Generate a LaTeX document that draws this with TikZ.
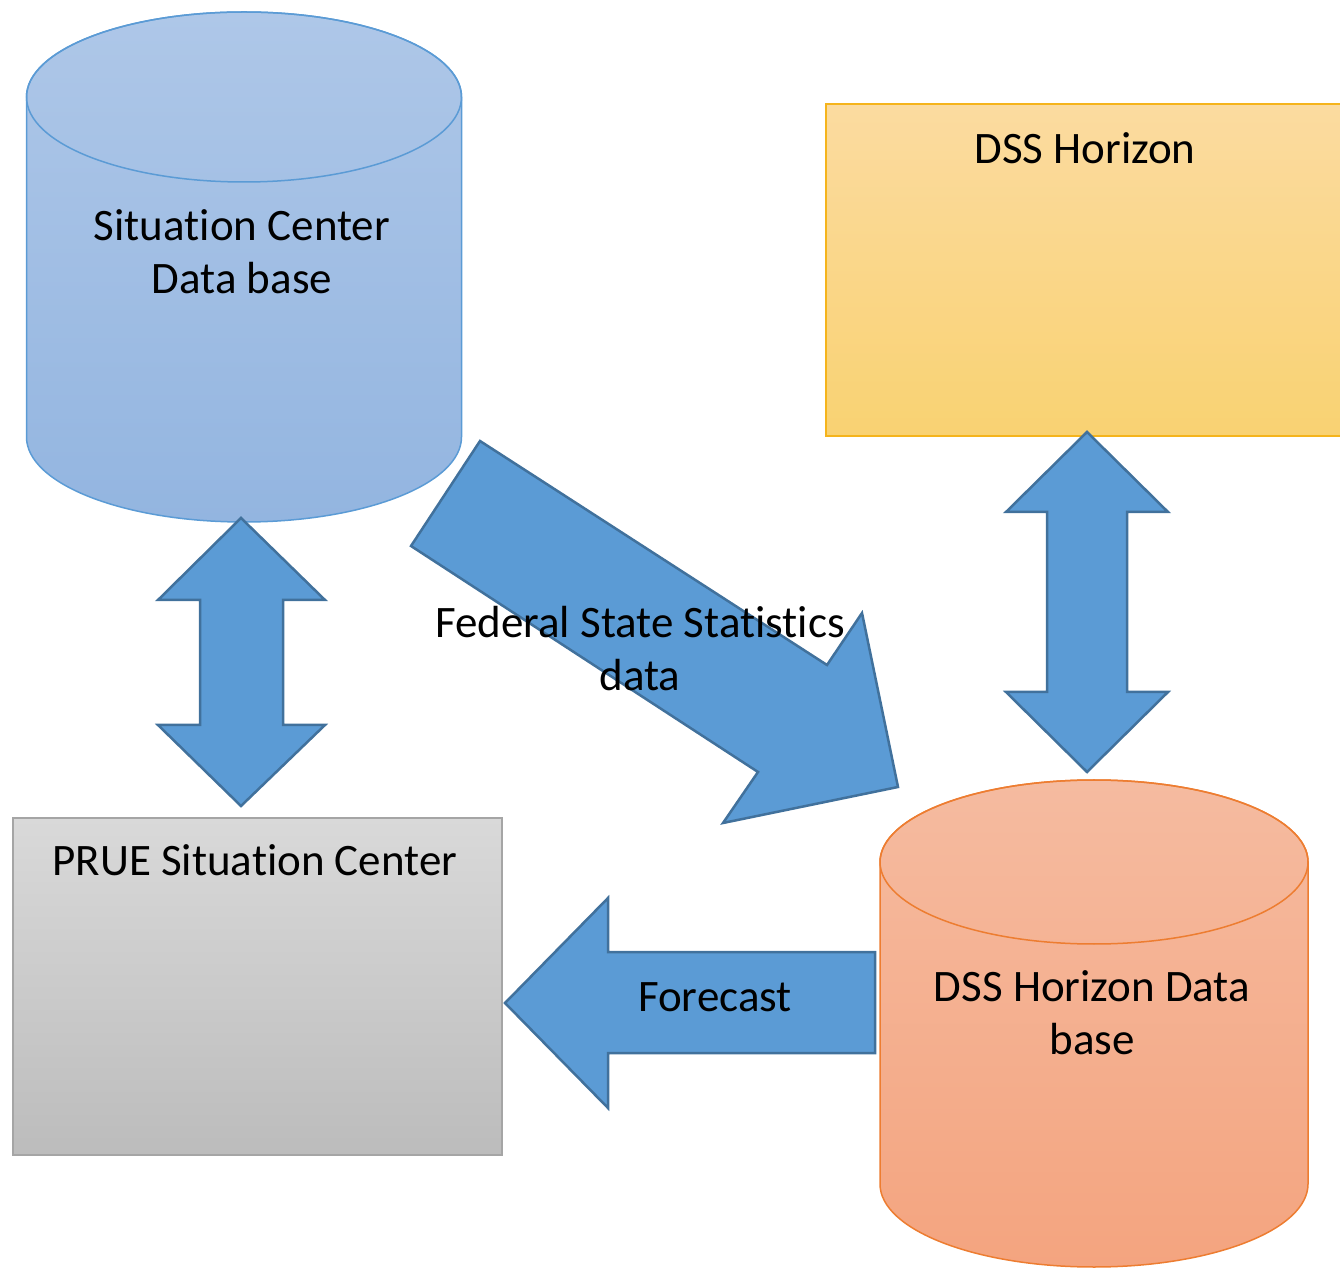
\documentclass[tikz,border=0pt]{standalone}
\usepackage{fontspec}
\setmainfont[Ligatures={NoCommon}]{Carlito}
\definecolor{arrfill}{HTML}{5B9BD5}
\definecolor{arredge}{HTML}{41719C}
\definecolor{bluetop}{HTML}{AEC7E8}
\definecolor{bluebot}{HTML}{93B5E0}
\definecolor{blueedge}{HTML}{5B9BD5}
\definecolor{orgtop}{HTML}{F5BBA0}
\definecolor{orgbot}{HTML}{F4A47F}
\definecolor{orgedge}{HTML}{ED7D31}
\definecolor{yeltop}{HTML}{FBDBA0}
\definecolor{yelbot}{HTML}{F9D272}
\definecolor{yeledge}{HTML}{F5B41C}
\definecolor{graytop}{HTML}{D9D9D9}
\definecolor{graybot}{HTML}{BCBCBC}
\definecolor{grayedge}{HTML}{A5A5A5}
\tikzset{
  blockarrow/.style={fill=arrfill, draw=arredge, line width=2.5pt, line join=miter},
  lbl/.style={font=\fontsize{45}{53}\selectfont, align=center, text=black, inner sep=0pt},
}
\begin{document}
\begin{tikzpicture}[x=1pt,y=1pt]
\useasboundingbox (0,0) rectangle (1340,1267);
% Blue cylinder
\shade[top color=bluetop, bottom color=bluebot, draw=blueedge, line width=1.5pt]
  (26.5,1170) -- (26.5,830) arc[start angle=180, end angle=360, x radius=217.5, y radius=85]
  -- (461.5,1170) arc[start angle=0, end angle=180, x radius=217.5, y radius=85] -- cycle;
\draw[blueedge, line width=1.5pt] (244,1170) ellipse[x radius=217.5, y radius=85];
\node[lbl] (scdb) at (242,1015) {Situation Center\\Data base};
% Yellow rectangle
\shade[top color=yeltop, bottom color=yelbot, draw=yeledge, line width=1.5pt]
  (826,831) rectangle (1346,1163);
\node[lbl] (dss) at (1085,1119) {DSS Horizon};
% Gray rectangle
\shade[top color=graytop, bottom color=graybot, draw=grayedge, line width=1.5pt]
  (13,112) rectangle (502,449);
\node[lbl] (prue) at (255,407) {PRUE Situation Center};
% Orange cylinder
\shade[top color=orgtop, bottom color=orgbot, draw=orgedge, line width=1.5pt]
  (880,405) -- (880,83) arc[start angle=180, end angle=360, x radius=214, y radius=83]
  -- (1308,405) arc[start angle=0, end angle=180, x radius=214, y radius=82] -- cycle;
\draw[orgedge, line width=1.5pt] (1094,405) ellipse[x radius=214, y radius=82];
\node[lbl] (dssdb) at (1092,254) {DSS Horizon Data\\base};
% Left double arrow
\coordinate (la1) at (241,749);
\coordinate (la2) at (241,461);
\draw[blockarrow] (la1) -- (325,667) -- (283,667) -- (283,542) -- (325,542) -- (la2)
  -- (158,542) -- (200,542) -- (200,667) -- (158,667) -- cycle;
% Right double arrow
\coordinate (ra1) at (1087,835);
\coordinate (ra2) at (1087,495);
\draw[blockarrow] (ra1) -- (1168,755) -- (1127,755) -- (1127,575) -- (1168,575) -- (ra2)
  -- (1006,575) -- (1047,575) -- (1047,755) -- (1006,755) -- cycle;
% Forecast arrow
\coordinate (fa) at (505,264);
\draw[blockarrow] (fa) -- (608,369) -- (608,315) -- (875,315) -- (875,214) -- (608,214) -- (608,159) -- cycle;
\node[lbl] (fc) at (715,270) {Forecast};
% Diagonal arrow
\coordinate (da) at (898,480);
\draw[blockarrow] (480,826) -- (827,602) -- (862,654) -- (da) -- (723,444) -- (758,495) -- (411,721) -- cycle;
\node[lbl] (fss) at (640,618) {Federal State Statistics\\data};
\end{tikzpicture}
\end{document}
